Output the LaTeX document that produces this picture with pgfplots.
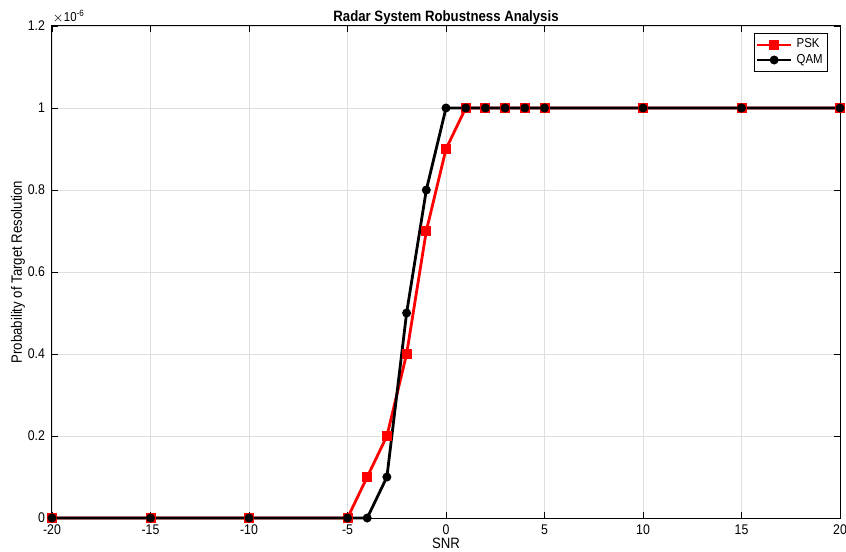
\documentclass[border=0pt]{standalone}
\usepackage{pgfplots}
\pgfplotsset{compat=1.18}
\usepackage{fontspec}
\setmainfont{Liberation Sans}[FakeStretch=0.88]
\begin{document}
\begin{tikzpicture}
\begin{axis}[
  name=ax,
  scale only axis,
  width=394pt, height=246pt,
  xmin=-20, xmax=20, ymin=0, ymax=1.2,
  xtick={-20,-15,...,20},
  ytick={0,0.2,...,1.2},
  yticklabels={0,0.2,0.4,0.6,0.8,1,1.2},
  tick align=inside,
  major tick length=3pt,
  tick style={black, line width=0.4pt},
  axis line style={black, line width=0.5pt},
  grid=major,
  grid style={gray!25, line width=0.4pt},
  ticklabel style={font=\fontsize{7}{8}\selectfont},
  /pgf/number format/assume math mode=true,
  xlabel={SNR},
  ylabel={Probability of Target Resolution},
  label style={font=\fontsize{7.5}{9}\selectfont},
  xlabel style={yshift=5.5pt},
  ylabel style={yshift=-5.5pt},
  title={\textbf{Radar System Robustness Analysis}},
  title style={font=\fontsize{7.5}{9}\selectfont, yshift=-9pt},
  legend style={at={(0.985,0.985)}, anchor=north east, font=\fontsize{6.5}{7}\selectfont, draw=black, line width=0.5pt, inner sep=0.5pt, row sep=-2.5pt, cells={anchor=west}},
  legend image post style={sharp plot},
  legend cell align=left,
  clip=false,
]
\addplot[red, line width=1.4pt, mark=square*, mark size=1.8pt, mark options={solid, fill=red}]
coordinates {(-20,0) (-15,0) (-10,0) (-5,0) (-4,0.1) (-3,0.2) (-2,0.4) (-1,0.7) (0,0.9) (1,1) (2,1) (3,1) (4,1) (5,1) (10,1) (15,1) (20,1)};
\addlegendentry{PSK}
\addplot[black, line width=1.4pt, mark=*, mark size=1.5pt, mark options={solid, fill=black}]
coordinates {(-20,0) (-15,0) (-10,0) (-5,0) (-4,0) (-3,0.1) (-2,0.5) (-1,0.8) (0,1) (1,1) (2,1) (3,1) (4,1) (5,1) (10,1) (15,1) (20,1)};
\addlegendentry{QAM}
\end{axis}
\node[anchor=south west, font=\fontsize{6.5}{7}\selectfont, inner sep=0pt] at ([yshift=1pt]ax.north west) {$\times$10\textsuperscript{-6}};
\pgfresetboundingbox
\path[use as bounding box] ([shift={(-26pt,-16.5pt)}]ax.south west) rectangle ([shift={(3pt,13pt)}]ax.north east);
\end{tikzpicture}
\end{document}
